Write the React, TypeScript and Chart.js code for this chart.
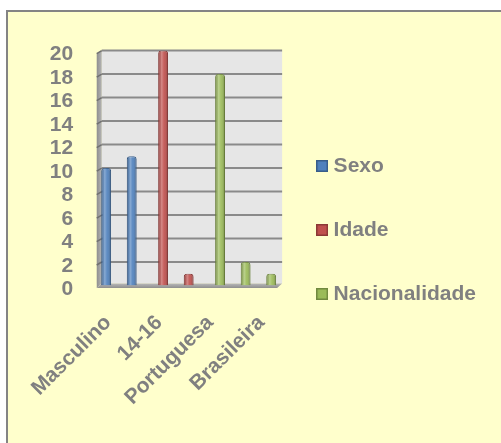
import { useEffect, useRef } from "react";
import { Chart, registerables } from "chart.js";

Chart.register(...registerables);

const categories = ["Masculino", "Feminino", "14-16", "17-19", "Portuguesa", "Cabo-verdiana", "Brasileira"];
const seriesNames = ["Sexo", "Idade", "Nacionalidade"];
const sexo = [10, 11, null, null, null, null, null];
const idade = [null, null, 20, 1, null, null, null];
const nacionalidade = [null, null, null, null, 18, 2, 1];
const yMin = 0;
const yMax = 20;
const yStep = 2;

const fills = ["#4F81BD", "#C0504D", "#9BBB59"];
const edges = ["#385D8A", "#8C3836", "#71893F"];
const FONT = "'Liberation Sans', Arial, Helvetica, sans-serif";
const TEXT = "#808080";

function makeSwatch(fill: string, edge: string) {
  const c = document.createElement("canvas");
  c.width = 12;
  c.height = 12;
  const g = c.getContext("2d")!;
  g.fillStyle = edge;
  g.fillRect(0, 0, 12, 12);
  g.fillStyle = fill;
  g.fillRect(1.5, 1.5, 9, 9);
  return c;
}

const excel3d = {
  id: "excel3d",
  beforeDatasetsDraw(chart: any) {
    const { ctx, chartArea: ca, scales } = chart;
    const y = scales.y;
    const y0 = y.getPixelForValue(yMin);
    const yT = y.getPixelForValue(yMax);
    const bl = ca.left + 2.5;
    const br = ca.right + 4;
    const fl = ca.left - 2.5;
    const fr = ca.right - 1;
    const bb = y0 - 2;
    const fb = y0 + 2.5;
    ctx.save();
    ctx.fillStyle = "#E6E6E6";
    ctx.fillRect(bl, yT, br - bl, bb - yT);
    ctx.beginPath();
    ctx.moveTo(bl, yT);
    ctx.lineTo(bl, bb);
    ctx.lineTo(fl, fb);
    ctx.lineTo(fl, yT + 3);
    ctx.closePath();
    const sg = ctx.createLinearGradient(fl, 0, bl, 0);
    sg.addColorStop(0, "#8E8E8E");
    sg.addColorStop(1, "#B4B4B4");
    ctx.fillStyle = sg;
    ctx.fill();
    for (const t of y.ticks) {
      if (t.value === yMin) continue;
      const py = y.getPixelForValue(t.value);
      ctx.strokeStyle = "#8A8A8A";
      ctx.lineWidth = 2;
      ctx.beginPath();
      ctx.moveTo(bl, py);
      ctx.lineTo(br, py);
      ctx.stroke();
      ctx.strokeStyle = "#707070";
      ctx.lineWidth = 1.5;
      ctx.beginPath();
      ctx.moveTo(fl, py + 3);
      ctx.lineTo(bl, py);
      ctx.stroke();
    }
    ctx.beginPath();
    ctx.moveTo(bl, bb);
    ctx.lineTo(br, bb);
    ctx.lineTo(fr, fb);
    ctx.lineTo(fl, fb);
    ctx.closePath();
    const fg = ctx.createLinearGradient(0, bb, 0, fb);
    fg.addColorStop(0, "#B8B8B8");
    fg.addColorStop(1, "#8E8E8E");
    ctx.fillStyle = fg;
    ctx.fill();
    ctx.restore();
  },
  afterDatasetsDraw(chart: any) {
    const { ctx } = chart;
    ctx.save();
    chart.data.datasets.forEach((ds: any, di: number) => {
      const meta = chart.getDatasetMeta(di);
      meta.data.forEach((el: any, i: number) => {
        if (ds.data[i] == null) return;
        const { x, y, base, width } = el.getProps(["x", "y", "base", "width"], true);
        const l = x - width / 2;
        const g = ctx.createLinearGradient(l, 0, l + width, 0);
        g.addColorStop(0, "rgba(0,0,0,0.18)");
        g.addColorStop(0.35, "rgba(255,255,255,0.32)");
        g.addColorStop(0.6, "rgba(255,255,255,0.08)");
        g.addColorStop(1, "rgba(0,0,0,0.28)");
        ctx.fillStyle = g;
        ctx.beginPath();
        ctx.roundRect(l + 0.5, y + 0.5, width - 1, base - y - 1, [3, 3, 0, 0]);
        ctx.fill();
      });
    });
    ctx.restore();
  },
};

export default function App() {
  const ref = useRef<HTMLCanvasElement | null>(null);
  useEffect(() => {
    if (!ref.current) return;
    const seriesValues = [sexo, idade, nacionalidade];
    const swatches = fills.map((f, i) => makeSwatch(f, edges[i]));
    const chart = new Chart(ref.current, {
      type: "bar",
      data: {
        labels: categories,
        datasets: seriesNames.map((name, i) => ({
          label: name,
          data: seriesValues[i],
          backgroundColor: fills[i],
          borderColor: edges[i],
          borderWidth: 1,
          borderSkipped: "bottom",
          borderRadius: { topLeft: 3, topRight: 3, bottomLeft: 0, bottomRight: 0 },
          categoryPercentage: 0.686,
          barPercentage: 1.69,
        })),
      },
      options: {
        animation: false,
        responsive: false,
        devicePixelRatio: 1,
        layout: { padding: { left: 0, top: 37.5, right: 15, bottom: 32.5 } },
        plugins: {
          tooltip: { enabled: false },
          legend: {
            position: "right",
            align: "center",
            maxWidth: 300,
            labels: {
              usePointStyle: true,
              boxWidth: 2,
              boxHeight: 2,
              padding: 43,
              color: TEXT,
              font: { family: FONT, size: 21, weight: "bold" },
              generateLabels: (c: any) =>
                Chart.defaults.plugins.legend.labels.generateLabels(c).map((it: any, i: number) => ({
                  ...it,
                  pointStyle: swatches[i],
                })),
            },
          },
        },
        scales: {
          x: {
            grid: { display: false, drawTicks: false },
            border: { display: false },
            afterFit: (s: any) => {
              s.height = 125;
            },
            ticks: {
              autoSkip: false,
              minRotation: 45,
              maxRotation: 45,
              padding: 25,
              labelOffset: -4,
              color: TEXT,
              font: { family: FONT, size: 21, weight: "bold" },
              callback: (_v: any, i: number) => (i % 2 === 0 ? categories[i] : ""),
            },
          },
          y: {
            min: yMin,
            max: yMax,
            grid: { display: false, drawTicks: false },
            border: { display: false },
            afterFit: (s: any) => {
              s.width = 89.5;
            },
            ticks: {
              stepSize: yStep,
              autoSkip: false,
              padding: 26,
              labelOffset: 4,
              color: TEXT,
              font: { family: FONT, size: 21, weight: "bold" },
            },
          },
        },
      },
      plugins: [excel3d],
    } as any);
    return () => chart.destroy();
  }, []);

  return (
    <div style={{ position: "fixed", left: 0, top: 0, width: 501, height: 443, overflow: "hidden", background: "#FFFFFF" }}>
      <div
        style={{
          position: "absolute",
          left: 6,
          top: 10,
          width: 520,
          height: 460,
          border: "2px solid #848484",
          background: "#FFFFCC",
        }}
      >
        <canvas ref={ref} width={493} height={431} style={{ position: "absolute", left: 0, top: 0, width: 493, height: 431 }} />
      </div>
    </div>
  );
}
